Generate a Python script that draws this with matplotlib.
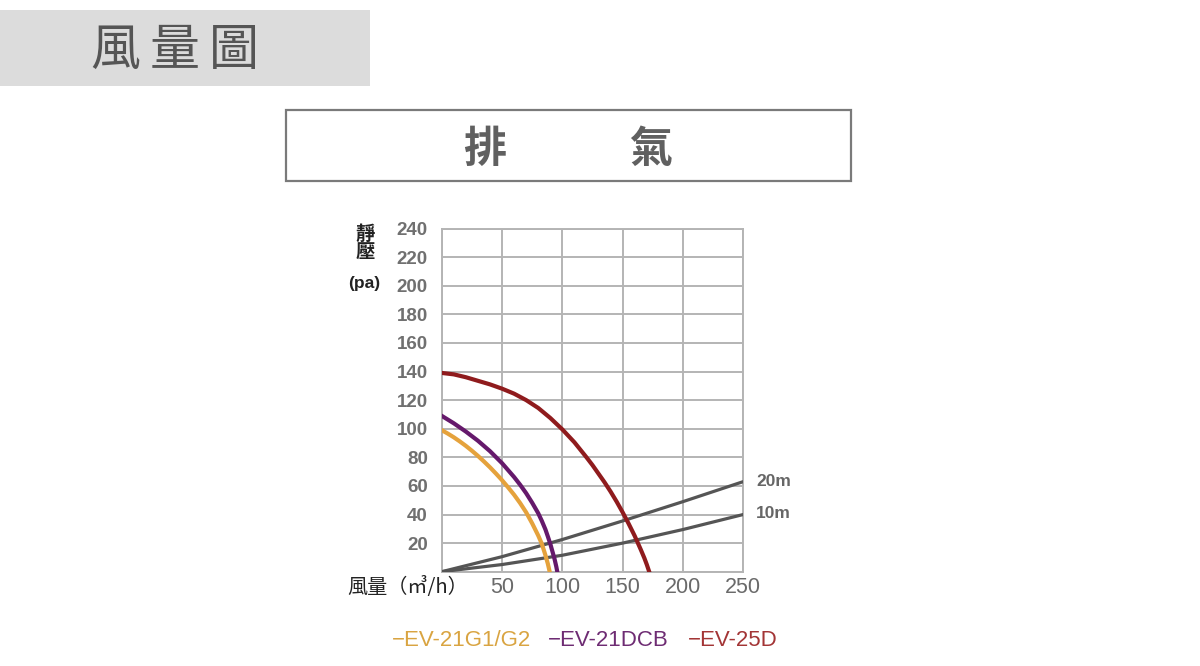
import matplotlib
matplotlib.use("Agg")
import matplotlib.pyplot as plt
from matplotlib.patches import Rectangle

plt.rcParams['font.family'] = ['Liberation Sans', 'Noto Sans CJK TC', 'DejaVu Sans']

# ---------------- data ----------------
x_ticks = [0, 50, 100, 150, 200, 250]
x_tick_labels = ['', '50', '100', '150', '200', '250']
y_ticks = [0, 20, 40, 60, 80, 100, 120, 140, 160, 180, 200, 220, 240]
y_tick_labels = ['', '20', '40', '60', '80', '100', '120', '140', '160', '180', '200', '220', '240']

g1_x = [0, 5, 10, 15, 20, 25, 30, 35, 40, 45, 50, 55, 60, 65, 70, 75, 80, 83, 86, 88, 89.5]
g1_y = [99, 96.6, 94, 91.1, 88, 84.6, 81, 77.1, 73, 68.6, 64, 59, 53.8, 48, 41.5, 33.8, 25.3, 19.5, 11.5, 5.5, 0]

dcb_x = [0, 10, 20, 30, 40, 50, 60, 65, 70, 75, 80, 83, 86, 88, 90, 92, 93.5, 95, 95.8]
dcb_y = [109, 103.8, 98, 91.6, 84.3, 75.9, 66.2, 60.8, 54.9, 48.2, 40.9, 35.5, 29.5, 24.6, 19.5, 13.5, 9, 3.5, 0]

d25_x = [0, 10, 20, 30, 40, 50, 60, 70, 80, 90, 100, 110, 120, 125, 130, 135, 140, 145,
         150, 155, 160, 165, 168, 170, 172]
d25_y = [139, 138, 136, 133.5, 131, 128, 124.5, 120, 114.5, 107.5, 99.5, 90.5, 80, 74.5,
         68.5, 62.5, 56, 49, 41.5, 33.5, 25, 15.5, 9.5, 5, 0]

duct20_x = [0, 50, 100, 150, 200, 250]
duct20_y = [0, 10.5, 22.5, 35.5, 49, 63]
duct10_x = [0, 50, 100, 150, 200, 250]
duct10_y = [0, 5, 11.5, 20, 29.5, 40]

series_names = ['EV-21G1/G2', 'EV-21DCB', 'EV-25D']
duct_names = ['20m', '10m']

# ---------------- figure ----------------
W, H = 1200, 666
fig = plt.figure(figsize=(12, 6.66), dpi=100)
fig.patch.set_facecolor('white')

def fx(px):
    return px / W

def fy(py):
    return 1 - py / H

cjk = ['Noto Sans CJK TC', 'DejaVu Sans']

# header grey band
fig.patches.append(Rectangle((0, fy(86)), fx(370), (86 - 10) / H,
                             transform=fig.transFigure, facecolor='#dcdcdc',
                             edgecolor='none', zorder=0))
for ch, cx in zip('風量圖', [115, 175, 234]):
    fig.text(fx(cx), fy(51), ch, ha='center', va='center', fontsize=36,
             color='#555555', family=cjk)

# boxed subtitle
fig.patches.append(Rectangle((fx(286), fy(181)), fx(851 - 286), (181 - 110) / H,
                             transform=fig.transFigure, facecolor='white',
                             edgecolor='#7a7a7a', linewidth=1.6, zorder=0))
for ch, cx in zip('排氣', [485, 651]):
    fig.text(fx(cx), fy(149), ch, ha='center', va='center', fontsize=31,
             color='#606060', fontweight='bold', family=cjk)

# axes
ax = fig.add_axes([fx(441.7), fy(571.7), fx(743.3 - 441.7), (571.7 - 228.5) / H])
ax.set_xlim(0, 250)
ax.set_ylim(0, 240)
ax.set_xticks(x_ticks)
ax.set_xticklabels(x_tick_labels)
ax.set_yticks(y_ticks)
ax.set_yticklabels(y_tick_labels)
ax.grid(True, color='#b4b4b4', linewidth=1.4)
ax.set_axisbelow(True)
for s in ax.spines.values():
    s.set_color('#b4b4b4')
    s.set_linewidth(1.4)
ax.tick_params(axis='both', length=0)
ax.tick_params(axis='y', pad=10, labelsize=13.5, labelcolor='#707070')
ax.tick_params(axis='x', pad=4, labelsize=15.5, labelcolor='#6a6a6a')
for lab in ax.get_yticklabels():
    lab.set_fontweight('bold')

ax.plot(duct20_x, duct20_y, color='#555555', lw=2.3, solid_capstyle='butt', zorder=3)
ax.plot(duct10_x, duct10_y, color='#555555', lw=2.3, solid_capstyle='butt', zorder=3)
ax.plot(g1_x, g1_y, color='#e5a23c', lw=3.0, zorder=4, solid_joinstyle='round')
ax.plot(dcb_x, dcb_y, color='#65196b', lw=3.0, zorder=4, solid_joinstyle='round')
ax.plot(d25_x, d25_y, color='#8f1b1d', lw=3.0, zorder=4, solid_joinstyle='round')

# duct labels
fig.text(fx(756), fy(481), duct_names[0], ha='left', va='center', fontsize=12.5,
         color='#666666', fontweight='bold')
fig.text(fx(756), fy(514), duct_names[1], ha='left', va='center', fontsize=12.5,
         color='#666666', fontweight='bold')

# axis labels
fig.text(fx(365), fy(234), '靜', ha='center', va='center', fontsize=14,
         color='#222222', fontweight='bold', family=cjk)
fig.text(fx(365), fy(253), '壓', ha='center', va='center', fontsize=14,
         color='#222222', fontweight='bold', family=cjk)
fig.text(fx(364), fy(284), '(pa)', ha='center', va='center', fontsize=12.5,
         color='#222222', fontweight='bold')
fig.text(fx(468), fy(587), '風量（㎥/h）', ha='right', va='center', fontsize=14.5,
         color='#222222', family=cjk)

# legend
leg_colors = ['#d9a441', '#6e2c73', '#a33536']
for name, col, px in zip(series_names, leg_colors, [392, 548, 688]):
    fig.text(fx(px), fy(640), '\u2212' + name, ha='left', va='center',
             fontsize=16, color=col)

fig.savefig('out.png', dpi=100, facecolor='white')
